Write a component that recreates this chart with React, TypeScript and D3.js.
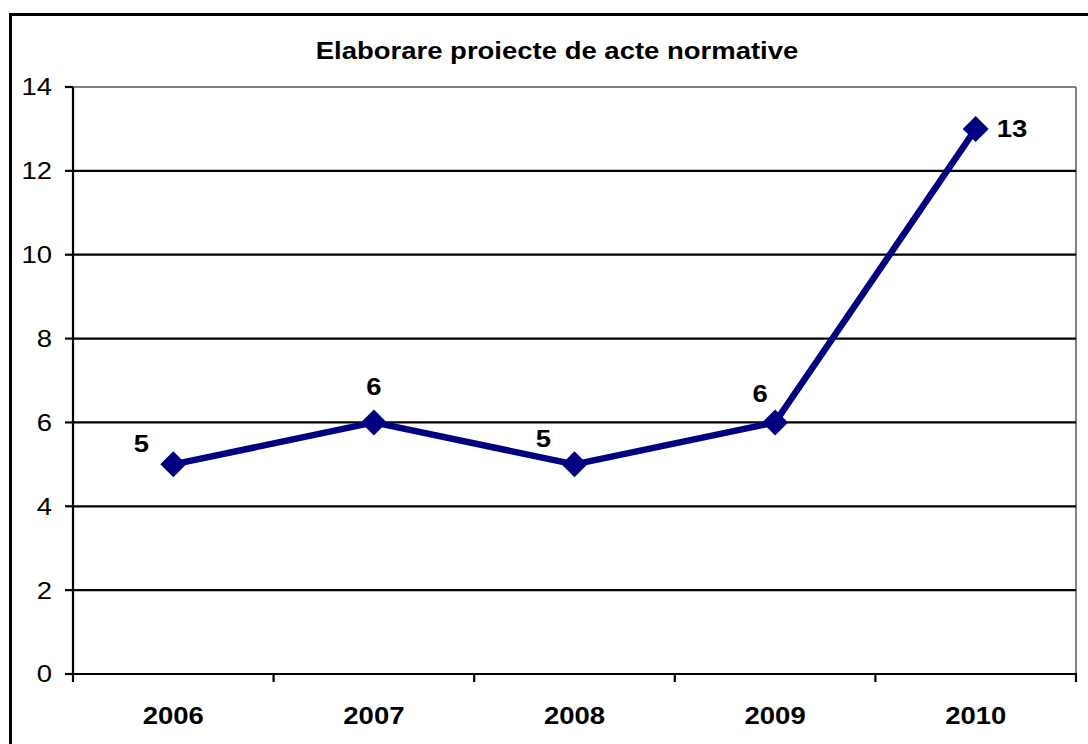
import React from "react";
import * as d3 from "d3";

const title = "Elaborare proiecte de acte normative";
const years = ["2006", "2007", "2008", "2009", "2010"];
const values = [5, 6, 5, 6, 13];
const yTicks = [0, 2, 4, 6, 8, 10, 12, 14];

// label offsets relative to point (dx, dy of baseline, anchor)
const labelPlacement: [number, number, string][] = [
  [-32, -12, "middle"],
  [0, -27, "middle"],
  [-31, -17, "middle"],
  [-15, -20, "middle"],
  [21, 8, "start"],
];

const W = 1088;
const H = 744;
const left = 73;
const right = 1076;
const top = 87;
const bottom = 674;
const FONT = "Arial, 'Liberation Sans', sans-serif";
const FS = 23.5;
const SX = 1.17;

function T(props: {
  x: number;
  y: number;
  anchor?: string;
  bold?: boolean;
  dy?: string;
  children: React.ReactNode;
}) {
  return (
    <g transform={`translate(${props.x},${props.y}) scale(${SX},1)`}>
      <text
        x={0}
        y={0}
        dy={props.dy}
        textAnchor={(props.anchor || "middle") as any}
        fontWeight={props.bold ? "bold" : "normal"}
        fontSize={FS}
        fill="#000"
      >
        {props.children}
      </text>
    </g>
  );
}

export default function App() {
  const x = d3.scaleBand<string>().domain(years).range([left, right]).padding(0);
  const y = d3.scaleLinear().domain([0, 14]).range([bottom, top]);
  const cx = (d: string) => (x(d) as number) + x.bandwidth() / 2;
  const line = d3
    .line<number>()
    .x((_, i) => cx(years[i]))
    .y((v) => y(v));
  const boundaries = years.map((d) => x(d) as number).concat([right]);
  const r = 13;

  return (
    <svg
      width={W}
      height={H}
      style={{ position: "absolute", left: 0, top: 0, background: "#fff" }}
      fontFamily={FONT}
    >
      <rect x={0} y={0} width={W} height={H} fill="#fff" />
      {/* outer border */}
      <rect x={10.5} y={14.5} width={W + 10} height={H + 10} fill="none" stroke="#000" strokeWidth={3} />
      <T x={557} y={59} bold>
        {title}
      </T>
      {/* plot area grey border */}
      <line x1={left} x2={right} y1={top} y2={top} stroke="#808080" strokeWidth={2} />
      <line x1={right} x2={right} y1={top} y2={bottom} stroke="#808080" strokeWidth={2} />
      {/* gridlines */}
      {yTicks
        .filter((t) => t > 0 && t < 14)
        .map((t) => (
          <line key={t} x1={left} x2={right} y1={y(t)} y2={y(t)} stroke="#000" strokeWidth={2.2} />
        ))}
      {/* y axis */}
      <line x1={left} x2={left} y1={top} y2={bottom + 1} stroke="#000" strokeWidth={2.2} />
      {yTicks.map((t) => (
        <g key={t}>
          <line x1={left - 8} x2={left} y1={y(t)} y2={y(t)} stroke="#000" strokeWidth={2.2} />
          <T x={52} y={y(t)} dy="0.36em" anchor="end">
            {t}
          </T>
        </g>
      ))}
      {/* x axis */}
      <line x1={left - 8} x2={right + 1} y1={bottom} y2={bottom} stroke="#000" strokeWidth={2.2} />
      {boundaries.map((b, i) => (
        <line key={i} x1={b} x2={b} y1={bottom} y2={bottom + 8} stroke="#000" strokeWidth={2.2} />
      ))}
      {years.map((d) => (
        <T key={d} x={cx(d)} y={724} bold>
          {d}
        </T>
      ))}
      {/* series */}
      <path d={line(values) || ""} fill="none" stroke="#000080" strokeWidth={6.5} strokeLinejoin="round" />
      {values.map((v, i) => {
        const px = cx(years[i]);
        const py = y(v);
        return (
          <path
            key={i}
            d={`M${px},${py - r}L${px + r},${py}L${px},${py + r}L${px - r},${py}Z`}
            fill="#000080"
          />
        );
      })}
      {values.map((v, i) => {
        const [dx, dy, anchor] = labelPlacement[i];
        return (
          <T key={i} x={cx(years[i]) + dx} y={y(v) + dy} anchor={anchor} bold>
            {v}
          </T>
        );
      })}
    </svg>
  );
}
